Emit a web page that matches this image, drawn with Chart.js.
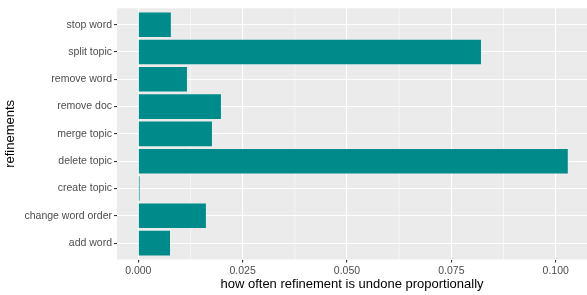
<html>
<head>
<title>Refinements undone</title>
<script src="https://cdn.jsdelivr.net/npm/chart.js@4/dist/chart.umd.min.js"></script>
<style>
  body { margin: 0; background: #fff; }
  #wrap { width: 587px; height: 295px; }
</style>
</head>
<body>
<div id="wrap"><canvas id="myChart" width="587" height="295"></canvas></div>
<script>
// categories, bottom to top (as ggplot draws a discrete y axis)
var refinements = [ 'add word', 'change word order', 'create topic', 'delete topic',
  'merge topic', 'remove doc', 'remove word', 'split topic', 'stop word' ];
// share of refinements that were undone
var undone = [ 0.0076, 0.0162, 0.0003, 0.1029, 0.01765, 0.0198, 0.01166, 0.0821, 0.0078 ];
var xTicks = [ 0, 0.025, 0.05, 0.075, 0.1 ];
var xMinor = [ 0.0125, 0.0375, 0.0625, 0.0875 ];

var font = 'Liberation Sans';

// grey panel and the thin minor lines, under everything else
var panel = {
  id: 'panel',
  beforeDraw: function( chart ){
    var c = chart.ctx, a = chart.chartArea, xs = chart.scales.x;
    c.save();
    c.fillStyle = '#EBEBEB';
    c.fillRect( a.left, a.top, a.right - a.left, a.bottom - a.top );
    c.strokeStyle = '#FFFFFF';
    c.lineWidth = 0.55;
    xMinor.forEach( function( v ){
      var px = xs.getPixelForValue( v );
      c.beginPath();
      c.moveTo( px, a.top );
      c.lineTo( px, a.bottom );
      c.stroke();
    });
    c.restore();
  }
};

var ctx = document.getElementById( 'myChart' ).getContext( '2d' );
var myChart = new Chart( ctx, {
  type: 'bar',
  data: {
    datasets: [{
      data: undone.map( function( v, i ){ return { x: v, y: i }; } ),
      backgroundColor: '#008B8B',
      borderWidth: 0,
      barPercentage: 0.9,
      categoryPercentage: 1.0
    }]
  },
  options: {
    indexAxis: 'y',
    responsive: false,
    animation: false,
    layout: { padding: { top: 6, right: 0, left: 0, bottom: 0 } },
    plugins: { legend: { display: false }, tooltip: { enabled: false } },
    scales: {
      x: {
        type: 'linear',
        min: -0.0051,
        max: 0.1075,
        afterBuildTicks: function( s ){ s.ticks = xTicks.map( function( v ){ return { value: v }; } ); },
        afterFit: function( s ){ s.height = 35.5; },
        border: { display: false },
        grid: { color: '#FFFFFF', lineWidth: 1.1, tickColor: '#333333', tickLength: 3, tickWidth: 1.1 },
        ticks: {
          color: '#4D4D4D', padding: 2, maxRotation: 0,
          font: { family: font, size: 10.5 },
          callback: function( v ){ return v.toFixed( 3 ); }
        },
        title: {
          display: true, text: 'how often refinement is undone proportionally',
          color: '#000000', font: { family: font, size: 13 },
          padding: { top: 0, bottom: 3 }
        }
      },
      y: {
        type: 'linear',
        offset: false,
        min: -0.6,
        max: 8.6,
        afterBuildTicks: function( s ){ s.ticks = refinements.map( function( r, i ){ return { value: i }; } ); },
        afterFit: function( s ){ s.width = 117; },
        border: { display: false },
        grid: { offset: false, color: '#FFFFFF', lineWidth: 1.1, tickColor: '#333333', tickLength: 3, tickWidth: 1.1 },
        ticks: {
          color: '#4D4D4D', padding: 2, autoSkip: false,
          font: { family: font, size: 10.5 },
          callback: function( v ){ return refinements[v]; }
        },
        title: {
          display: true, text: 'refinements',
          color: '#000000', font: { family: font, size: 13 },
          padding: { top: 3, bottom: 0 }
        }
      }
    }
  },
  plugins: [ panel ]
});
</script>
</body>
</html>
